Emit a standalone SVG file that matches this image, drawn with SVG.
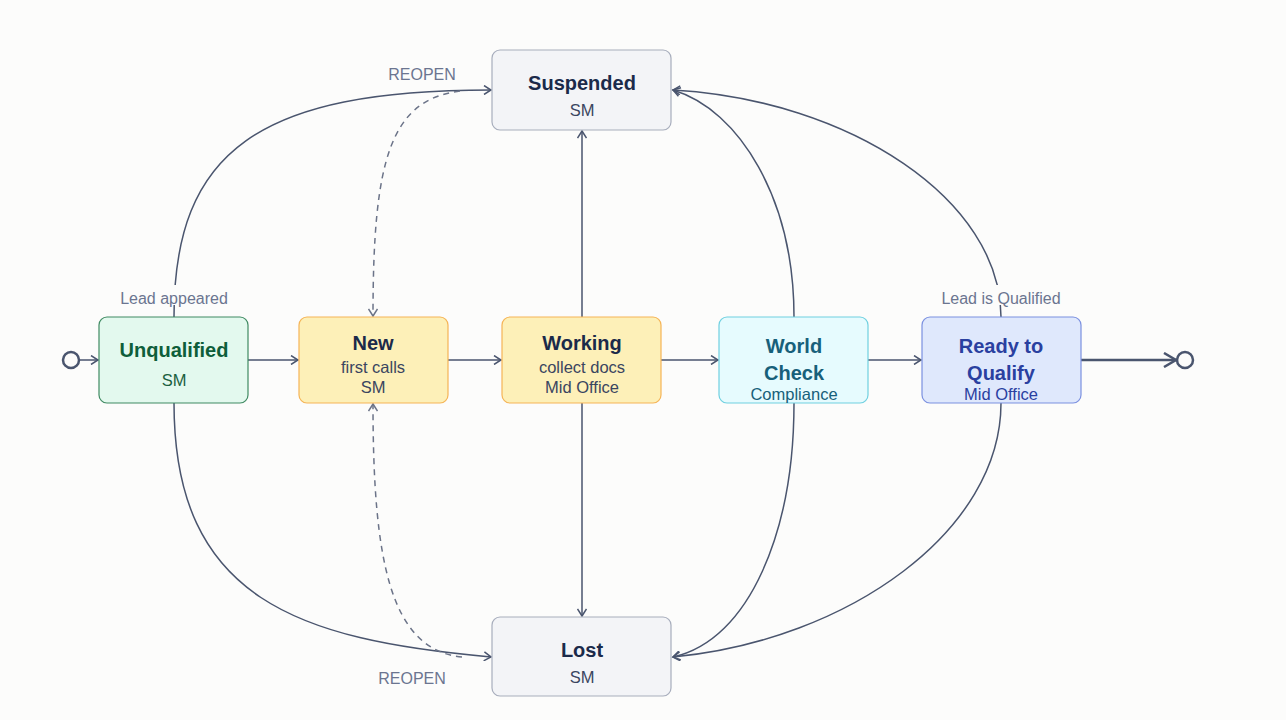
<svg xmlns="http://www.w3.org/2000/svg" width="1286" height="720" viewBox="0 0 1286 720">
<defs>
<marker id="arr" markerWidth="10" markerHeight="10" refX="8" refY="5" orient="auto" markerUnits="userSpaceOnUse">
<path d="M1,0.5 L8,5 L1,9.5" fill="none" stroke="#4a556e" stroke-width="1.5"/>
</marker>
<marker id="arrd" markerWidth="10" markerHeight="10" refX="8" refY="5" orient="auto" markerUnits="userSpaceOnUse">
<path d="M1,0.5 L8,5 L1,9.5" fill="none" stroke="#6b7388" stroke-width="1.5"/>
</marker>
<marker id="arrb" markerWidth="16" markerHeight="16" refX="13" refY="8" orient="auto" markerUnits="userSpaceOnUse">
<path d="M1,1 L13,8 L1,15" fill="none" stroke="#4a556e" stroke-width="2.5"/>
</marker>
<style>
.e{fill:none;stroke:#4a556e;stroke-width:1.5;marker-end:url(#arr)}
.d{fill:none;stroke:#6b7388;stroke-width:1.5;stroke-dasharray:6 5;marker-end:url(#arrd)}
.t{font-family:"Liberation Sans",Arial,sans-serif;font-size:20px;font-weight:bold;text-anchor:middle}
.s{font-family:"Liberation Sans",Arial,sans-serif;font-size:16.5px;text-anchor:middle}
.l{font-family:"Liberation Sans",Arial,sans-serif;font-size:16px;text-anchor:middle;fill:#6b7590}
.n{stroke-width:1.2}
</style>
</defs>
<rect width="1286" height="720" fill="#fcfcfb"/>
<g id="connectors">
<circle cx="71" cy="360" r="8" fill="none" stroke="#4a556e" stroke-width="2.5"/>
<circle cx="1185" cy="360" r="8" fill="none" stroke="#4a556e" stroke-width="2.5"/>
<path class="e" d="M79,360 L98,360"/>
<path class="e" d="M248,360 L298,360"/>
<path class="e" d="M448,360 L501,360"/>
<path class="e" d="M661,360 L718,360"/>
<path class="e" d="M868,360 L921,360"/>
<path d="M1081,360 L1176,360" fill="none" stroke="#4a556e" stroke-width="2.5" marker-end="url(#arrb)"/>
<path class="e" d="M582,317 L582,131"/>
<path class="e" d="M582,403 L582,616"/>
<path class="e" d="M174,317 C174,150 260,90 491,90"/>
<path class="e" d="M174,403 C174,600 300,640 491,657"/>
<path class="d" d="M460,91 C390,100 373,160 373,316"/>
<path class="d" d="M462,657 C390,650 373,560 373,404"/>
<path class="e" d="M794,317 C794,200 740,110 673,90"/>
<path class="e" d="M794,403 C794,530 750,640 673,657"/>
<path class="e" d="M1001,317 C1001,200 850,100 673,90"/>
<path class="e" d="M1001,403 C1001,530 850,640 673,657"/>
<rect x="112" y="285" width="124" height="20" fill="#fcfcfb"/>
<text class="l" x="174" y="304">Lead appeared</text>
<rect x="932" y="285" width="138" height="20" fill="#fcfcfb"/>
<text class="l" x="1001" y="304">Lead is Qualified</text>
<text class="l" x="422" y="80">REOPEN</text>
<text class="l" x="412" y="684">REOPEN</text>
</g>
<g id="unqualified">
<rect class="n" x="99" y="317" width="149" height="86" rx="8" fill="#e3f9ee" stroke="#3f8a62"/>
<text class="t" x="174" y="357" fill="#0e5e3a">Unqualified</text>
<text class="s" x="174" y="386" fill="#1a6040">SM</text>
</g>
<g id="new">
<rect class="n" x="299" y="317" width="149" height="86" rx="8" fill="#fdf0b8" stroke="#f5b456"/>
<text class="t" x="373" y="350" fill="#1b2a4a">New</text>
<text class="s" x="373" y="373" fill="#3a4560">first calls</text>
<text class="s" x="373" y="393" fill="#3a4560">SM</text>
</g>
<g id="working">
<rect class="n" x="502" y="317" width="159" height="86" rx="8" fill="#fdf0b8" stroke="#f5b456"/>
<text class="t" x="582" y="350" fill="#1b2a4a">Working</text>
<text class="s" x="582" y="373" fill="#3a4560">collect docs</text>
<text class="s" x="582" y="393" fill="#3a4560">Mid Office</text>
</g>
<g id="worldcheck">
<rect class="n" x="719" y="317" width="149" height="86" rx="8" fill="#e6fbfe" stroke="#6fd0e0"/>
<text class="t" x="794" y="353" fill="#17607a">World</text>
<text class="t" x="794" y="380" fill="#17607a">Check</text>
<text class="s" x="794" y="400" fill="#17607a">Compliance</text>
</g>
<g id="ready">
<rect class="n" x="922" y="317" width="159" height="86" rx="8" fill="#dfe8fc" stroke="#7b90e0"/>
<text class="t" x="1001" y="353" fill="#2a40a0">Ready to</text>
<text class="t" x="1001" y="380" fill="#2a40a0">Qualify</text>
<text class="s" x="1001" y="400" fill="#2a40a0">Mid Office</text>
</g>
<g id="suspended">
<rect class="n" x="492" y="50" width="179" height="80" rx="8" fill="#f3f4f7" stroke="#a7adbc"/>
<text class="t" x="582" y="90" fill="#1b2a4a">Suspended</text>
<text class="s" x="582" y="116" fill="#3a4560">SM</text>
</g>
<g id="lost">
<rect class="n" x="492" y="617" width="179" height="79" rx="8" fill="#f3f4f7" stroke="#a7adbc"/>
<text class="t" x="582" y="657" fill="#1b2a4a">Lost</text>
<text class="s" x="582" y="683" fill="#3a4560">SM</text>
</g>
</svg>
